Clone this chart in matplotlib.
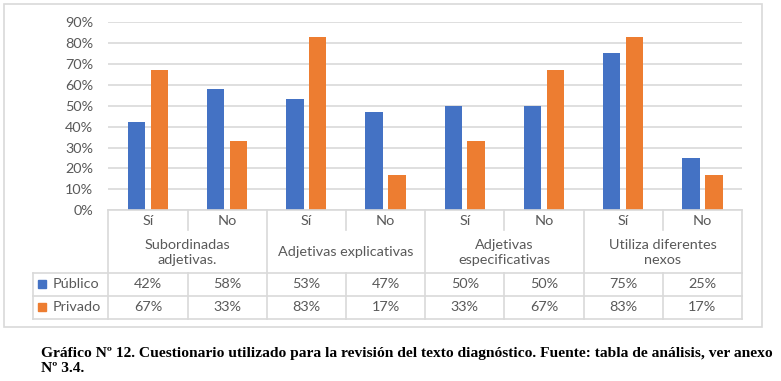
import numpy as np
import matplotlib.pyplot as plt
from matplotlib.patches import Rectangle

# ----------------------------
# Data
# ----------------------------
groups = ["Subordinadas\nadjetivas.", "Adjetivas explicativas",
          "Adjetivas\nespecificativas", "Utiliza diferentes\nnexos"]
answers = ["Sí", "No"]
publico = [0.42, 0.58, 0.53, 0.47, 0.50, 0.50, 0.75, 0.25]
privado = [0.67, 0.33, 0.83, 0.17, 0.33, 0.67, 0.83, 0.17]
series_names = ["Público", "Privado"]
yticks = [0, 0.1, 0.2, 0.3, 0.4, 0.5, 0.6, 0.7, 0.8, 0.9]
caption_lines = ["Gráfico Nº 12. Cuestionario utilizado para la revisión del texto diagnóstico. "
                 "Fuente: tabla de análisis, ver anexo",
                 "Nº 3.4."]

blue = "#4472C4"
orange = "#ED7D31"
gray_txt = "#595959"
line_c = "#D9D9D9"
font = "Lato"
fs = 10.4

W, H = 781, 381
fig = plt.figure(figsize=(W / 100, H / 100), dpi=100)


def fx(px):
    return px / W


def fy(py):
    return 1 - py / H


# chart frame
fig.patches.append(Rectangle((fx(4), fy(327)), fx(758), 323 / H, transform=fig.transFigure,
                             fill=False, edgecolor=line_c, linewidth=1.2))

# ----------------------------
# Bars
# ----------------------------
x_left, x_right = 108.3, 742
y_top, y_zero = 22, 210.3
ax = fig.add_axes([fx(x_left), fy(y_zero), fx(x_right - x_left), (y_zero - y_top) / H])
x = np.arange(len(publico))
bw = 0.22
off = 0.144
ax.bar(x - off, publico, bw, color=blue, zorder=3)
ax.bar(x + off, privado, bw, color=orange, zorder=3)
ax.set_xlim(-0.5, len(publico) - 0.5)
ax.set_ylim(0, 0.9)
ax.set_yticks(yticks)
ax.set_yticklabels([f"{int(round(t * 100))}%" for t in yticks], fontfamily=font,
                   fontsize=fs, color=gray_txt)
ax.tick_params(axis="y", length=0, pad=11)
ax.set_xticks([])
ax.grid(axis="y", color=line_c, linewidth=1.2, zorder=0)
for s in ax.spines.values():
    s.set_visible(False)

# ----------------------------
# Data table under the axis
# ----------------------------
tab_left = 33.3
tab_bottom = 319.3
unit = (x_right - x_left) / len(publico)
xl = -0.5 - (x_left - tab_left) / unit
tab = fig.add_axes([fx(tab_left), fy(tab_bottom), fx(x_right - tab_left), (tab_bottom - y_zero) / H])
tab.set_xlim(xl, len(publico) - 0.5)
tab.set_ylim(tab_bottom - y_zero, 0)
tab.axis("off")

r1, r2, r3 = 62.4, 86, tab_bottom - y_zero
lw = 1.2
xe = len(publico) - 0.5
tab.plot([-0.5, xe], [0, 0], color=line_c, lw=lw, clip_on=False)
for yy in (r1, r2, r3):
    tab.plot([xl, xe], [yy, yy], color=line_c, lw=lw, clip_on=False)
tab.plot([xl, xl], [r1, r3], color=line_c, lw=lw, clip_on=False)
for g in range(len(groups) + 1):
    xx = -0.5 + 2 * g
    tab.plot([xx, xx], [0, r3], color=line_c, lw=lw, clip_on=False)
for g in range(len(groups)):
    xx = 0.5 + 2 * g
    tab.plot([xx, xx], [0, 20], color=line_c, lw=lw, clip_on=False)
    tab.plot([xx, xx], [r1, r3], color=line_c, lw=lw, clip_on=False)
    tab.text(2 * g + 0.5, 42, groups[g], ha="center", va="center", fontfamily=font,
             fontsize=fs, color=gray_txt, linespacing=1.35)

for i in x:
    tab.text(i, 11, answers[i % 2], ha="center", va="center", fontfamily=font,
             fontsize=fs, color=gray_txt)
    tab.text(i, 74, f"{int(round(publico[i] * 100))}%", ha="center", va="center",
             fontfamily=font, fontsize=fs, color=gray_txt)
    tab.text(i, 97, f"{int(round(privado[i] * 100))}%", ha="center", va="center",
             fontfamily=font, fontsize=fs, color=gray_txt)

# legend keys inside the table
for yy, name, c in ((74, series_names[0], blue), (97, series_names[1], orange)):
    tab.plot([xl + 0.11], [yy], marker="s", markersize=6, color=c, clip_on=False)
    tab.text(xl + 0.24, yy, name, ha="left", va="center", fontfamily=font,
             fontsize=fs, color=gray_txt)

# ----------------------------
# Caption
# ----------------------------
for k, line in enumerate(caption_lines):
    fig.text(fx(41), fy(356.7 + 15 * k), line, ha="left", va="baseline",
             fontfamily="Liberation Serif", fontweight="bold", fontsize=11.15, color="black")

plt.savefig("out.png", dpi=100)
